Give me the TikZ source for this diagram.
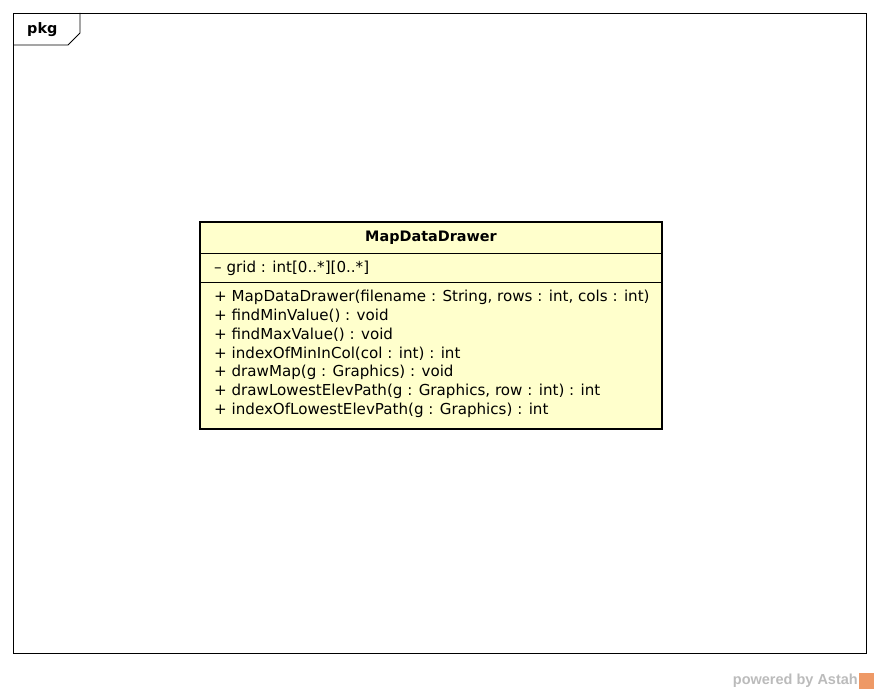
\documentclass[tikz,border=0pt]{standalone}
\usepackage{fontspec}
\setmainfont{DejaVu Sans}
\newfontfamily\wmfont{Liberation Sans}
\definecolor{classfill}{HTML}{FFFFCC}
\definecolor{wm}{HTML}{BBBBBB}
\definecolor{astah}{HTML}{EE9966}
\begin{document}
\begin{tikzpicture}[x=1pt,y=-1pt,
  member/.style={anchor=west,inner sep=0pt,font=\fontsize{15.1}{16}\selectfont},
  title/.style={inner sep=0pt,font=\bfseries\fontsize{14.4}{16}\selectfont}]
\useasboundingbox (0,0) rectangle (880,693);
% package frame
\draw[line width=0.8pt] (13,13) rectangle (866,653);
\draw[line width=0.8pt] (13,45) -- (68,45) -- (80,33) -- (80,13);
\node[title,anchor=west] (pkg) at (27,30) {pkg};
% class box
\draw[line width=2.6pt,fill=classfill] (200,222) rectangle (662,429);
\draw[line width=0.8pt] (200,253) -- (662,253);
\draw[line width=0.8pt] (200,282) -- (662,282);
\node[title] (cname) at (431,238) {MapDataDrawer};
\node[member] (a1) at (214,268) {– grid : int[0..*][0..*]};
\node[member] (m1) at (214,297) {+ MapDataDrawer(filename : String, rows : int, cols : int)};
\node[member] (m2) at (214,316) {+ findMinValue() : void};
\node[member] (m3) at (214,335) {+ findMaxValue() : void};
\node[member] (m4) at (214,354) {+ indexOfMinInCol(col : int) : int};
\node[member] (m5) at (214,372) {+ drawMap(g : Graphics) : void};
\node[member] (m6) at (214,391) {+ drawLowestElevPath(g : Graphics, row : int) : int};
\node[member] (m7) at (214,410) {+ indexOfLowestElevPath(g : Graphics) : int};
% watermark
\node[anchor=east,inner sep=0pt,text=wm,font=\wmfont\bfseries\fontsize{14.5}{16}\selectfont] (wmark) at (858,681) {powered by Astah};
\fill[astah] (859,673) rectangle (874,689);
\end{tikzpicture}
\end{document}
